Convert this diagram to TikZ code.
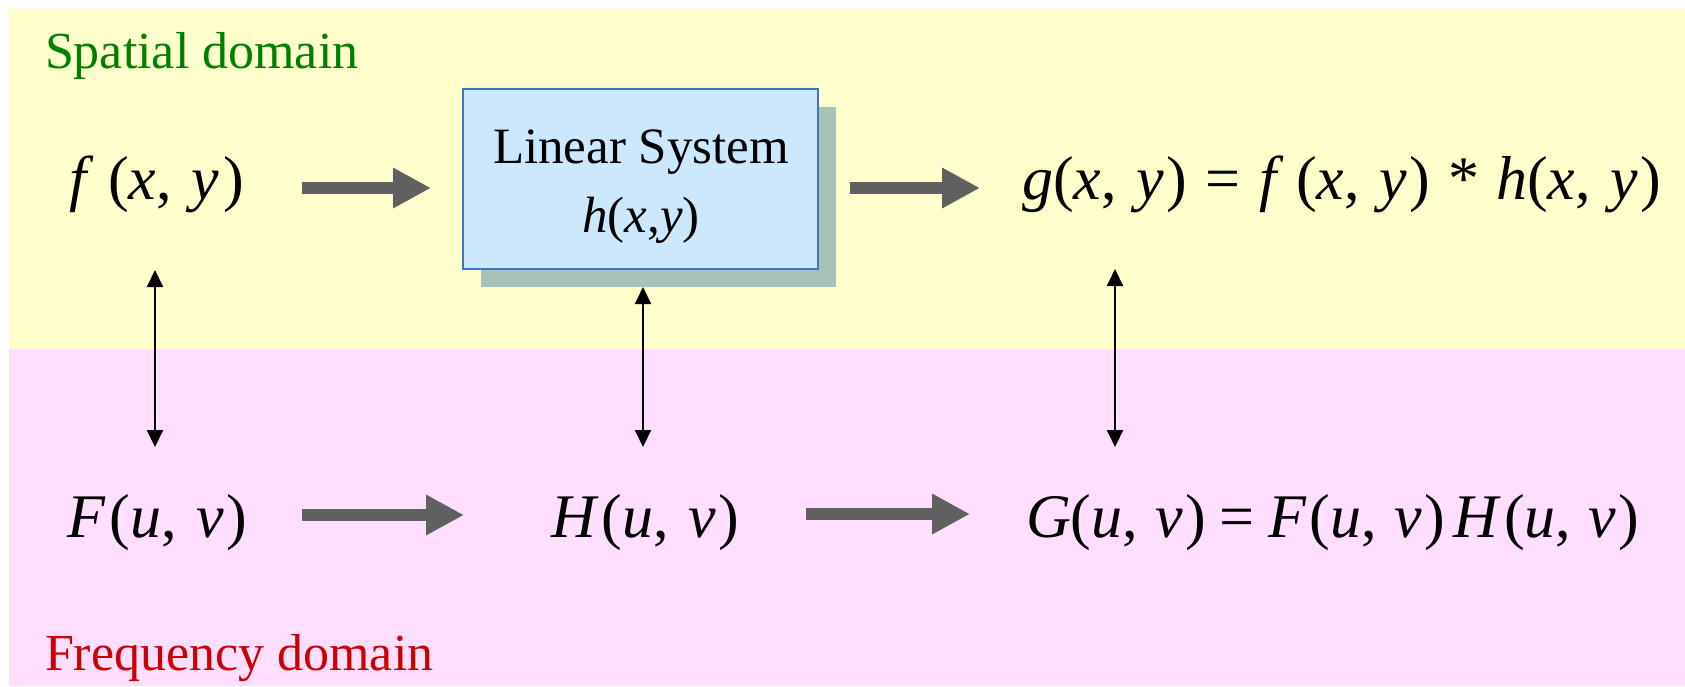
\documentclass[tikz,border=0pt]{standalone}
\usepackage{fontspec}
\setmainfont{Liberation Serif}
\usetikzlibrary{arrows.meta,shadows}
\definecolor{ybg}{HTML}{FFFFCC}
\definecolor{pbg}{HTML}{FFDEFF}
\definecolor{boxfill}{HTML}{CCE8FF}
\definecolor{boxline}{HTML}{4472C4}
\definecolor{shadowc}{HTML}{A7C3B9}
\definecolor{arrowgray}{HTML}{606060}
\definecolor{spgreen}{HTML}{008000}
\definecolor{frred}{HTML}{CC0000}
\newcommand{\vi}[1]{\textit{#1}}
\newcommand{\cs}{,\kern.32em}
\begin{document}
\begin{tikzpicture}[x=1pt,y=-1pt,
  txt/.style={inner sep=0pt, outer sep=0pt, anchor=base west},
  eqn/.style={txt, font=\fontsize{62}{70}\selectfont},
  dom/.style={txt, font=\fontsize{52}{60}\selectfont},
  sysbox/.style={draw=boxline, line width=1.5pt, fill=boxfill, minimum width=355pt, minimum height=180pt, inner sep=0pt,
    drop shadow={shadow xshift=18pt, shadow yshift=-18pt, fill=shadowc, opacity=1}},
  systxt/.style={inner sep=0pt, anchor=base, font=\fontsize{51}{60}\selectfont},
  bigarrow/.style={draw=arrowgray, line width=12pt, -{Triangle[width=38pt,length=38pt]}},
  dblarrow/.style={draw=black, line width=2pt, {Triangle[width=16pt,length=17pt]}-{Triangle[width=16pt,length=17pt]}}
]
\useasboundingbox (0,0) rectangle (1685,686);
\fill[ybg] (9,9) rectangle (1685,349);
\fill[pbg] (9,349) rectangle (1685,686);

\node[dom, text=spgreen] (spatial) at (45,68) {Spatial domain};
\node[dom, text=frred] (freq) at (45,670) {Frequency domain};

\node[sysbox] (sys) at (640.5,179) {};
\node[systxt] (sys1) at (641,163) {Linear System};
\node[systxt] (sys2) at (641,232) {\vi{h}(\vi{x},\vi{y})};

\node[eqn] (fxy) at (69,199) {\vi{f}\kern.24em(\vi{x}\cs\vi{y}\kern.06em)};
\node[eqn] (gxy) at (1022,199) {\vi{g}(\vi{x}\cs\vi{y}\kern.04em)\kern.3em=\kern.3em\vi{f}\kern.2em(\vi{x}\cs\vi{y}\kern.04em)\kern.3em*\kern.26em\vi{h}(\vi{x}\cs\vi{y}\kern.04em)};
\node[eqn] (Fuv) at (67,537) {\vi{F}\kern.07em(\vi{u}\cs\vi{v}\kern.04em)};
\node[eqn] (Huv) at (551,537) {\vi{H}\kern.05em(\vi{u}\cs\vi{v}\kern.04em)};
\node[eqn] (Guv) at (1026,537) {\vi{G}(\vi{u},\kern.28em\vi{v}\kern.04em)\kern.22em=\kern.22em\vi{F}\kern.05em(\vi{u},\kern.28em\vi{v}\kern.04em)\kern.14em\vi{H}\kern.05em(\vi{u},\kern.28em\vi{v}\kern.04em)};

\coordinate (a1s) at (302,188); \coordinate (a1e) at (431,188);
\coordinate (a2s) at (850,188); \coordinate (a2e) at (980,188);
\coordinate (a3s) at (302,515); \coordinate (a3e) at (464,515);
\coordinate (a4s) at (806,514); \coordinate (a4e) at (970,514);
\draw[bigarrow] (a1s) -- (a1e);
\draw[bigarrow] (a2s) -- (a2e);
\draw[bigarrow] (a3s) -- (a3e);
\draw[bigarrow] (a4s) -- (a4e);

\coordinate (d1t) at (155,270); \coordinate (d1b) at (155,447);
\coordinate (d2t) at (643,287); \coordinate (d2b) at (643,447);
\coordinate (d3t) at (1115,269); \coordinate (d3b) at (1115,447);
\draw[dblarrow] (d1t) -- (d1b);
\draw[dblarrow] (d2t) -- (d2b);
\draw[dblarrow] (d3t) -- (d3b);
\end{tikzpicture}
\end{document}
